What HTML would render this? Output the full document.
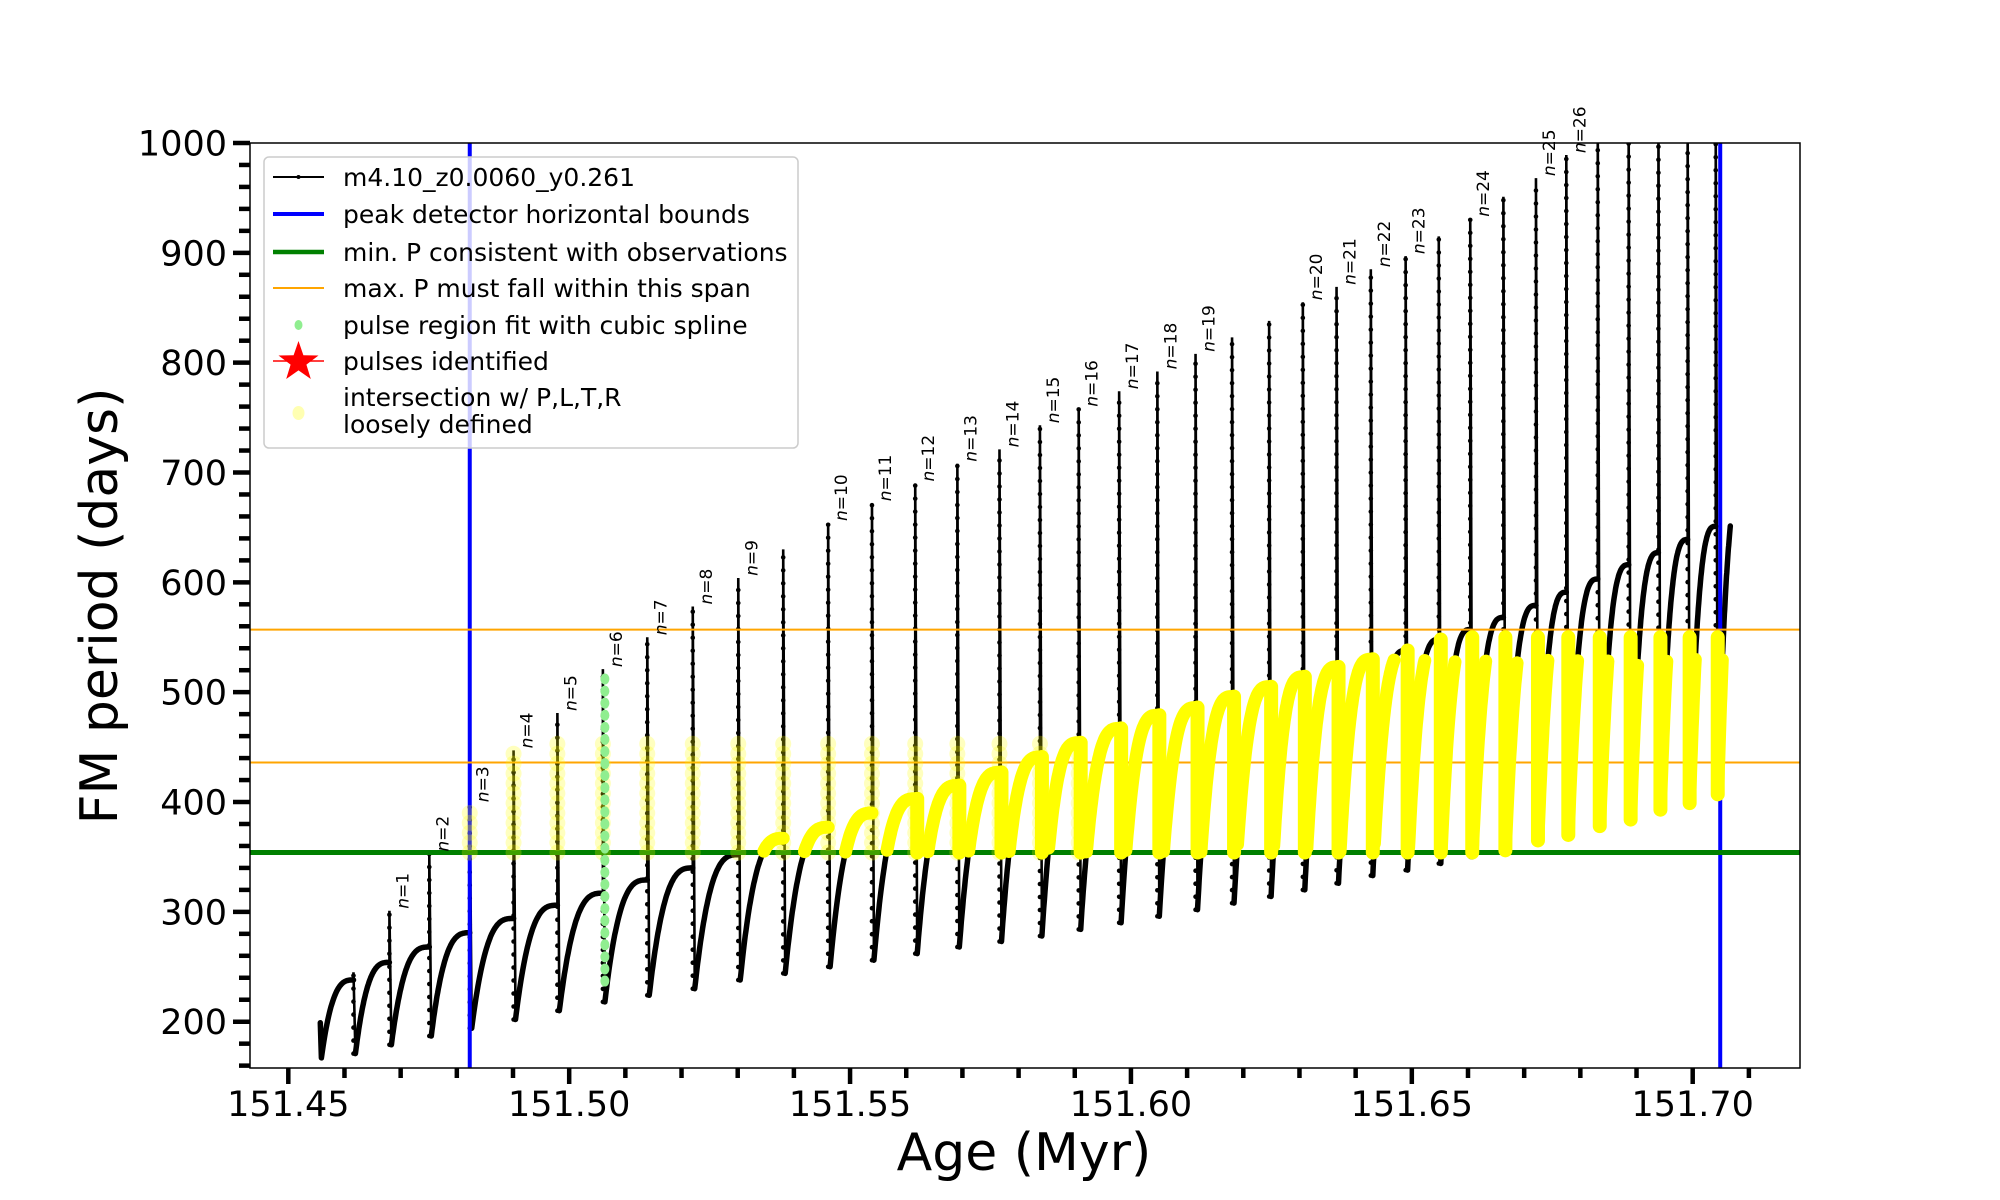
<!DOCTYPE html>
<html><head><meta charset="utf-8"><style>
html,body{margin:0;padding:0;background:#fff;}
svg{display:block;font-family:"DejaVu Sans","Liberation Sans",sans-serif;}
</style></head><body>
<svg id="chart" width="2000" height="1200" viewBox="0 0 2000 1200" xmlns="http://www.w3.org/2000/svg">
<defs><clipPath id="plotclip"><rect x="250" y="143" width="1550" height="925"/></clipPath></defs>
<rect x="0" y="0" width="2000" height="1200" fill="#fff"/>
<g id="plot" clip-path="url(#plotclip)"></g>
<g id="labels"></g>
<rect x="250" y="143" width="1550" height="925" fill="none" stroke="#000" stroke-width="1.5"/>
<g id="axes"></g>
<text x="1024" y="1170" font-size="52" text-anchor="middle">Age (Myr)</text>
<text x="0" y="0" font-size="52" text-anchor="middle" dominant-baseline="central" transform="translate(100,606) rotate(-90)">FM period (days)</text>
<g id="legend">
<rect x="264" y="157" width="534" height="291" rx="5" fill="#fff" fill-opacity="0.8" stroke="#ccc" stroke-width="1.5"/>
<g><line x1="273" y1="177" x2="324" y2="177" stroke="#000" stroke-width="2"/><circle cx="298.5" cy="177" r="2" fill="#000"/><text x="343" y="186" font-size="25">m4.10_z0.0060_y0.261</text></g>
<g><line x1="273" y1="214" x2="324" y2="214" stroke="#0000ff" stroke-width="4"/><text x="343" y="223" font-size="25">peak detector horizontal bounds</text></g>
<g><line x1="273" y1="252" x2="324" y2="252" stroke="#008000" stroke-width="4.5"/><text x="343" y="261" font-size="25">min. P consistent with observations</text></g>
<g><line x1="273" y1="288" x2="324" y2="288" stroke="#ffa500" stroke-width="2"/><text x="343" y="297" font-size="25">max. P must fall within this span</text></g>
<g><ellipse cx="298.5" cy="325" rx="4" ry="5" fill="#90ee90"/><text x="343" y="334" font-size="25">pulse region fit with cubic spline</text></g>
<g><line x1="273" y1="361" x2="324" y2="361" stroke="#ff0000" stroke-width="1.5"/><polygon points="298.5,341 303.4,355.3 318.5,355.5 306.4,364.6 310.8,379 298.5,370.4 286.2,379 290.6,364.6 278.5,355.5 293.6,355.3" fill="#ff0000"/><text x="343" y="370" font-size="25">pulses identified</text></g>
<g><ellipse cx="298.5" cy="413" rx="6" ry="7" fill="#ffff00" fill-opacity="0.3"/><text x="343" y="406" font-size="25">intersection w/ P,L,T,R</text><text x="343" y="433" font-size="25">loosely defined</text></g>
</g>
</svg>
<script>
const pulseAge = [151.4616,151.4680,151.4751,151.4823,151.4901,151.4979,151.5060,151.5139,151.5220,151.5301,151.5381,151.5461,151.5539,151.5616,151.5691,151.5766,151.5838,151.5907,151.5979,151.6047,151.6115,151.6180,151.6246,151.6306,151.6366,151.6427,151.6489,151.6548,151.6604,151.6663,151.6721,151.6775,151.6831,151.6886,151.6939,151.6991,151.7041];
const pulsePeak = [245,301,353,398,447,481,521,550,578,604,630,654,672,690,708,721,743,758,774,792,808,823,838,855,869,885,897,915,931,951,968,989,1020,1020,1020,1020,1020];
const pulseMin = [171,179,187,194,202,210,218,224,230,238,244,250,256,262,268,273,278,284,290,296,302,308,314,320,326,333,338,344,350,356,365,370,378,384,393,399,407];
const prePlateau = [238,254,268,281,294,306,317,329,340,352,367,377,390,403,415,427,441,454,467,479,486,496,505,514,523,530,538,548,557,568,579,591,603,616,627,639,651];
const pulseLabel = [0,1,2,3,4,5,6,7,8,9,0,10,11,12,13,14,15,16,17,18,19,0,0,20,21,22,23,0,24,0,25,26,0,0,0,0,0];
const startAge = [151.4557];
const startVal = [199, 167];
const endAge = [151.7067];
const endTarget = [700];
const xTicks = [151.45,151.50,151.55,151.60,151.65,151.70];
const xTickLabels = ["151.45","151.50","151.55","151.60","151.65","151.70"];
const yTicks = [200,300,400,500,600,700,800,900,1000];
const blueBounds = [151.4823, 151.7049];
const minP = [354];
const maxPSpan = [436, 557];
const splinePulse = [6];

const NS = "http://www.w3.org/2000/svg";
function X(v){ return 288.3 + (v - 151.45) * 5617.6; }
function Y(v){ return 1021.7 - (v - 200) * 1.0984; }
function mk(tag, attrs, parent){
  const e = document.createElementNS(NS, tag);
  for (const k in attrs) e.setAttribute(k, attrs[k]);
  parent.appendChild(e);
  return e;
}
const plot = document.getElementById('plot');
const labels = document.getElementById('labels');
const axes = document.getElementById('axes');
function rise(u){ return 1 - Math.pow(1 - u, 3); }

const segs = [];
const dt = 0.00035;
(function(){
  let pts = [[startAge[0], startVal[0]], [startAge[0] + 0.0002, startVal[1]]];
  const t0 = startAge[0] + 0.0002, t1 = pulseAge[0];
  for (let k = 1; k <= 40; k++){ const u = k / 40; pts.push([t0 + (t1 - t0) * u, startVal[1] + (prePlateau[0] - startVal[1]) * rise(u)]); }
  segs.push(pts);
  for (let i = 0; i < pulseAge.length; i++){
    const ta = pulseAge[i] + dt;
    const last = i === pulseAge.length - 1;
    const tb = last ? endAge[0] : pulseAge[i + 1];
    const target = last ? endTarget[0] : prePlateau[i + 1];
    const span = last ? (pulseAge[i] - pulseAge[i - 1]) : (tb - ta);
    const p = [];
    for (let k = 0; k <= 60; k++){
      const t = ta + (tb - ta) * k / 60;
      const u = Math.min(1, (t - ta) / span);
      p.push([t, pulseMin[i] + (target - pulseMin[i]) * rise(u)]);
    }
    segs.push(p);
  }
})();

let d = "";
segs.forEach((s) => {
  s.forEach((p, k) => { d += (k === 0 ? "M" : "L") + X(p[0]).toFixed(1) + "," + Y(p[1]).toFixed(1); });
});
const curve = mk('path', {d: d, fill: 'none', stroke: '#000', 'stroke-width': 5.5, 'stroke-linejoin': 'round', 'stroke-linecap': 'round'}, plot);



for (let i = 0; i < pulseAge.length; i++){
  const x = X(pulseAge[i]);
  const sp = mk('path', {d: "M" + x + "," + Y(prePlateau[i]) + "L" + x + "," + Y(pulsePeak[i]) + "L" + (X(pulseAge[i] + dt)) + "," + Y(pulseMin[i]), fill: 'none', stroke: '#000', 'stroke-width': 2.6}, plot);
  
  
  const y0 = Y(pulseMin[i]), y1 = Y(pulsePeak[i]);
  for (let yy = y0; yy >= y1; yy -= 13){
    mk('circle', {cx: x, cy: yy.toFixed(1), r: 2.3, fill: '#000'}, plot);
  }
}

blueBounds.forEach(b => {
  const l = mk('line', {x1: X(b), x2: X(b), y1: 143, y2: 1068, stroke: '#0000ff', 'stroke-width': 4}, plot);
  
  
});
maxPSpan.forEach(v => {
  const l = mk('line', {x1: 250, x2: 1800, y1: Y(v), y2: Y(v), stroke: '#ffa500', 'stroke-width': 2}, plot);
  
  
});
{
  const l = mk('line', {x1: 250, x2: 1800, y1: Y(minP[0]), y2: Y(minP[0]), stroke: '#008000', 'stroke-width': 5}, plot);
  
  
}

for (let i = 3; i < pulseAge.length && pulseAge[i] < 151.591; i++){
  const top = Math.min(pulsePeak[i], 458);
  for (let v = minP[0]; v <= top; v += 9){
    const c = mk('circle', {cx: X(pulseAge[i]), cy: Y(v), r: 8, fill: '#ffff00', 'fill-opacity': 0.25}, plot);
    
    
  }
}
const yCap = 530;
let yd = "";
segs.forEach(s => {
  let on = false;
  s.forEach(p => {
    if (p[1] >= minP[0] && p[1] <= yCap){ yd += (on ? "L" : "M") + X(p[0]).toFixed(1) + "," + Y(p[1]).toFixed(1); on = true; }
    else on = false;
  });
});
const ypath = mk('path', {d: yd, fill: 'none', stroke: '#ffff00', 'stroke-width': 13, 'stroke-linecap': 'round', 'stroke-linejoin': 'round'}, plot);


for (let i = 0; i < pulseAge.length; i++){
  if (pulseAge[i] < 151.554) continue;
  const lo = Math.max(minP[0], pulseMin[i]);
  const hi = Math.min(prePlateau[i], 550);
  const l = mk('line', {x1: X(pulseAge[i]) + 2, x2: X(pulseAge[i]) + 2, y1: Y(lo), y2: Y(hi), stroke: '#ffff00', 'stroke-width': 14, 'stroke-linecap': 'round'}, plot);
  
  
}
splinePulse.forEach(n => {
  const i = pulseLabel.indexOf(n);
  for (let v = 237; v <= pulsePeak[i]; v += 11){
    const c = mk('ellipse', {cx: X(pulseAge[i]) + 2, cy: Y(v), rx: 4.5, ry: 5.5, fill: '#90ee90'}, plot);
    
    
  }
});

for (let i = 0; i < pulseAge.length; i++){
  if (!pulseLabel[i]) continue;
  const x = X(pulseAge[i]) + 19, y = Y(pulsePeak[i]) - 2;
  const t = mk('text', {x: 0, y: 0, 'font-size': 17, transform: 'translate(' + x.toFixed(1) + ',' + y.toFixed(1) + ') rotate(-90)'}, labels);
  
  
  const ts = mk('tspan', {'font-style': 'italic'}, t); ts.textContent = 'n';
  const ts2 = mk('tspan', {}, t); ts2.textContent = '=' + pulseLabel[i];
}

for (let v = 160; v <= 1000; v += 20){
  const major = v % 100 === 0;
  const l = mk('line', {x1: 250 - (major ? 17 : 11), x2: 250, y1: Y(v), y2: Y(v), stroke: '#000', 'stroke-width': 4.5}, axes);
  
  
}
yTicks.forEach(v => {
  const t = mk('text', {x: 227, y: Y(v) + 12.5, 'font-size': 35, 'text-anchor': 'end'}, axes);
  t.textContent = String(v);
  
  
});
for (let k = 0; k <= 26; k++){
  const v = 151.45 + k * 0.01;
  const major = k % 5 === 0;
  const l = mk('line', {x1: X(v), x2: X(v), y1: 1068, y2: 1068 + (major ? 16 : 10), stroke: '#000', 'stroke-width': 4.5}, axes);
  
  
}
xTicks.forEach((v, i) => {
  const t = mk('text', {x: X(v), y: 1116, 'font-size': 35, 'text-anchor': 'middle'}, axes);
  t.textContent = xTickLabels[i];
  
  
});
</script>
</body></html>
